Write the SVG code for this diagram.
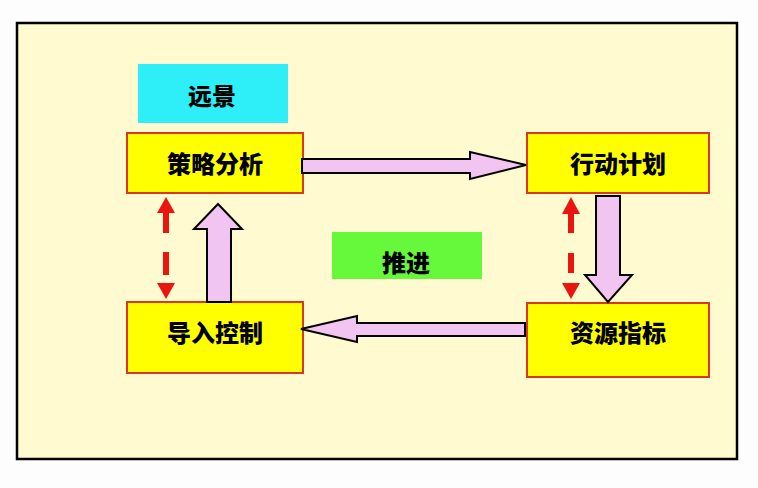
<svg xmlns="http://www.w3.org/2000/svg" width="758" height="488" viewBox="0 0 758 488">
<style>
.lbl{font-family:"Noto Sans CJK SC","Noto Sans CJK TC",sans-serif;font-weight:900;font-size:24px;fill:#000;text-anchor:middle}
.node{fill:#FFFF00;stroke:#D9381E;stroke-width:2}
.blk{fill:#F2C4F2;stroke:#000;stroke-width:2;stroke-linejoin:miter}
.red{fill:#E8160E}
</style>
<rect x="0" y="0" width="758" height="488" fill="#FDFDFD"/>
<rect x="17" y="23" width="720" height="436" fill="#FFFACF" stroke="#000" stroke-width="2.5"/>
<g id="vision">
<rect x="138" y="64" width="150" height="59" fill="#2EEEF8"/>
<text class="lbl" x="212" y="105">远景</text>
</g>
<g id="push">
<rect x="332" y="232" width="150" height="47" fill="#66F83A"/>
<text class="lbl" x="406" y="272">推进</text>
</g>
<g id="strategy">
<rect class="node" x="127" y="133" width="176" height="60"/>
<text class="lbl" x="215" y="173">策略分析</text>
</g>
<g id="action">
<rect class="node" x="527" y="133" width="182" height="60"/>
<text class="lbl" x="618" y="173">行动计划</text>
</g>
<g id="control">
<rect class="node" x="127" y="302" width="176" height="71"/>
<text class="lbl" x="215" y="342">导入控制</text>
</g>
<g id="resource">
<rect class="node" x="527" y="303" width="182" height="74"/>
<text class="lbl" x="618" y="342">资源指标</text>
</g>
<g id="connectors">
<polygon class="blk" points="302,159 470,159 470,152 526,165 470,179 470,173 302,173"/>
<polygon class="blk" points="596,196 620,196 620,275 632,275 608,302 585,275 596,275"/>
<polygon class="blk" points="525,323 357,323 357,316 301,329 357,342 357,336 525,336"/>
<polygon class="blk" points="207,302 207,229 194,229 218,204 242,229 231,229 231,302"/>
<g class="red">
<polygon points="166,197 175,213 157,213"/>
<rect x="163" y="213" width="6" height="20"/>
<rect x="163" y="252" width="6" height="23"/>
<polygon points="157,283 175,283 166,299"/>
<polygon points="571,197 580,214 562,214"/>
<rect x="568" y="214" width="6" height="19"/>
<rect x="568" y="253" width="6" height="20"/>
<polygon points="562,283 580,283 571,299"/>
</g>
</g>
</svg>
